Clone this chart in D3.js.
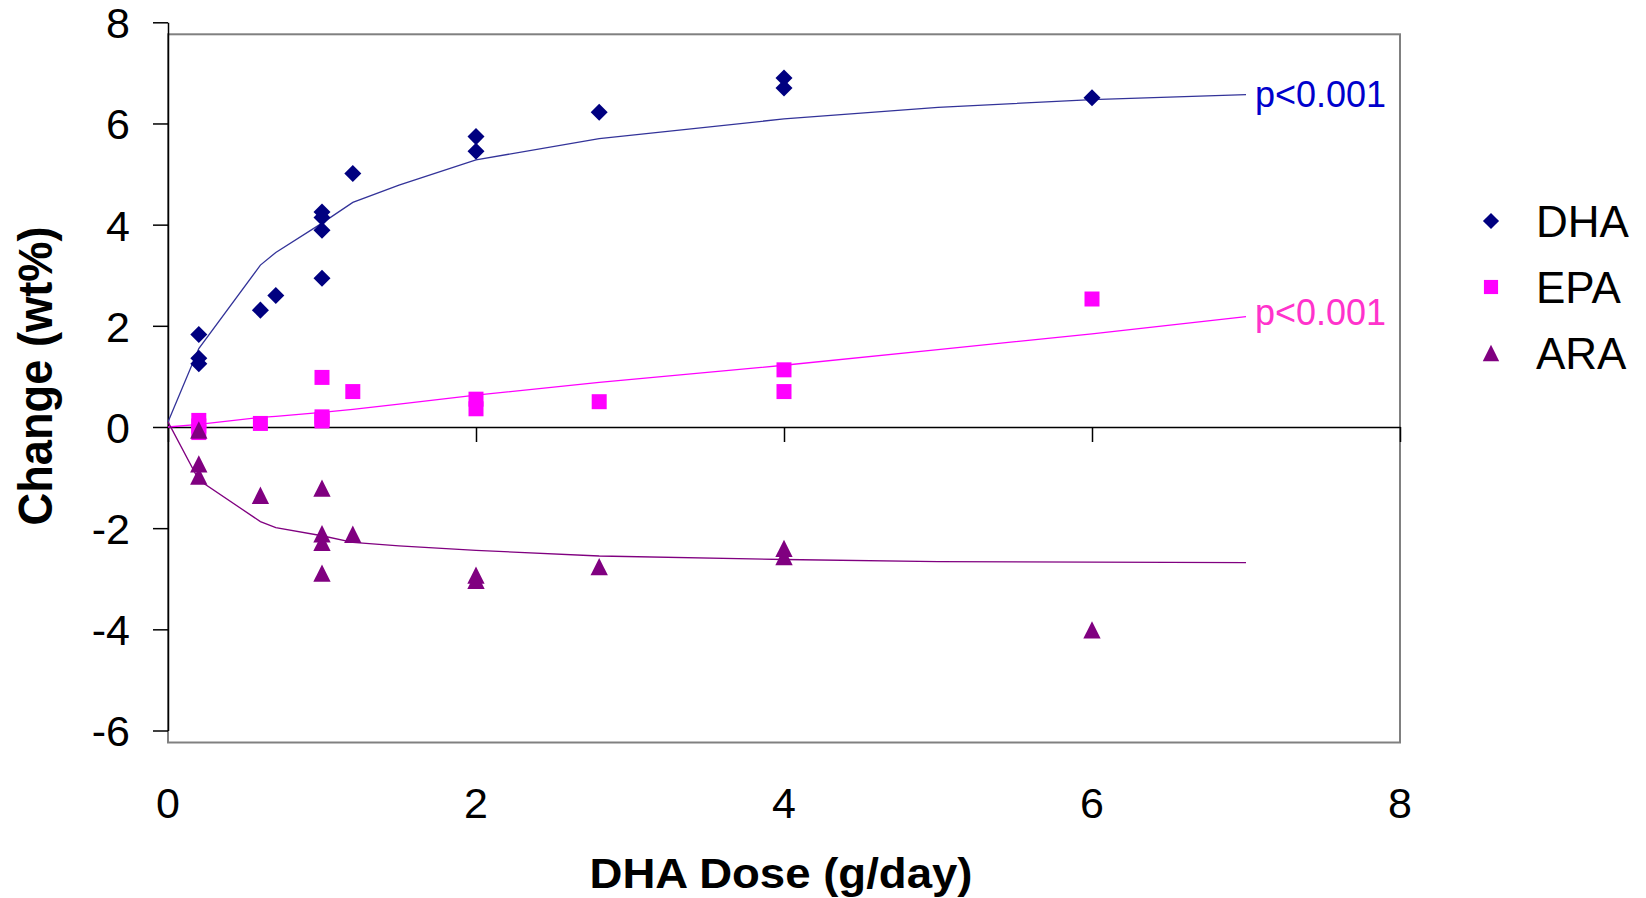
<!DOCTYPE html>
<html>
<head>
<meta charset="utf-8">
<script src="https://cdn.jsdelivr.net/npm/d3@7"></script>
<style>
	body { margin: 0; background: #ffffff; }
	text { font-family: "Liberation Sans", Arial, sans-serif; }
</style>
</head>
<body>
<div id="viz"></div>
<script>
var width = 1646;
var height = 898;

var dhaX = [0.2, 0.2, 0.2, 0.6, 0.7, 1, 1, 1, 1, 1.2, 2, 2, 2.8, 4, 4, 6];
var dhaY = [1.83, 1.36, 1.25, 2.31, 2.60, 4.25, 4.14, 3.89, 2.94, 5.01, 5.74, 5.45, 6.22, 6.90, 6.70, 6.51];

var epaX = [0.2, 0.2, 0.2, 0.6, 1, 1, 1, 1, 1.2, 2, 2, 2.8, 4, 4, 6];
var epaY = [0.13, 0.02, -0.11, 0.07, 0.98, 0.20, 0.15, 0.12, 0.70, 0.55, 0.36, 0.50, 1.13, 0.70, 2.53];

var araX = [0.2, 0.2, 0.2, 0.6, 1, 1, 1, 1, 1.2, 2, 2, 2.8, 4, 4, 6];
var araY = [-0.06, -0.73, -0.97, -1.35, -1.21, -2.11, -2.28, -2.89, -2.12, -2.93, -3.03, -2.76, -2.40, -2.56, -4.01];

// fitted curves
var fitX = [0, 0.2, 0.6, 0.7, 1, 1.2, 1.5, 2, 2.8, 4, 5, 6, 7];
var dhaFit = [0.1, 1.55, 3.2, 3.45, 4.03, 4.44, 4.78, 5.28, 5.70, 6.09, 6.32, 6.47, 6.57];
var epaFit = [0, 0.05, 0.19, 0.21, 0.29, 0.35, 0.45, 0.63, 0.88, 1.22, 1.53, 1.84, 2.18];
var araFit = [0.1, -1.05, -1.87, -1.99, -2.15, -2.28, -2.35, -2.44, -2.55, -2.62, -2.66, -2.67, -2.68];

var seriesNames = ["DHA", "EPA", "ARA"];
var pLabels = ["p<0.001", "p<0.001", ""];
var xTicks = [0, 2, 4, 6, 8];
var yTicks = [-6, -4, -2, 0, 2, 4, 6, 8];

var markerColor = { DHA: "#000080", EPA: "#ff00ff", ARA: "#800080" };
var lineColor = { DHA: "#333399", EPA: "#ff00ff", ARA: "#800080" };
var pColor = { DHA: "#0000cc", EPA: "#ff33cc" };
var pOffset = [12, 8, 0];

var x = d3.scaleLinear()
	.domain([0, 8])
	.range([168, 1400]);

var y = d3.scaleLinear()
	.domain([-6, 8])
	.range([730.5, 22.3]);

var zip = function(xs, ys) {
	return xs.map(function(d, i) { return [d, ys[i]]; });
}

var series = [
	{ name: "DHA", points: zip(dhaX, dhaY), fit: zip(fitX, dhaFit) },
	{ name: "EPA", points: zip(epaX, epaY), fit: zip(fitX, epaFit) },
	{ name: "ARA", points: zip(araX, araY), fit: zip(fitX, araFit) }
];

// excel style triangle, as wide as it is tall
var symbolTri = {
	draw: function(context, size) {
		var h = Math.sqrt(size);
		context.moveTo(0, -h / 2);
		context.lineTo(h / 2, h / 2);
		context.lineTo(-h / 2, h / 2);
		context.closePath();
	}
};

var markerPath = function(name) {
	if(name == "DHA") return d3.symbol().type(d3.symbolSquare).size(145)();
	if(name == "EPA") return d3.symbol().type(d3.symbolSquare).size(225)();
	return d3.symbol().type(symbolTri).size(300)();
}

var markerRotate = function(name) {
	return name == "DHA" ? " rotate(45)" : "";
}

// plain hyphen for negatives, like the original
var tickFmt = function(d) { return String(d); };

var svg = d3.select("#viz").append("svg")
	.attr("width", width)
	.attr("height", height);

svg.append("rect")
	.attr("width", width)
	.attr("height", height)
	.style("fill", "#ffffff");

// plot area frame (sits a little lower than the axis in the original)
var frameShift = 12;
svg.append("rect")
	.attr("x", x(0))
	.attr("y", y(8) + frameShift)
	.attr("width", x(8) - x(0))
	.attr("height", y(-6) - y(8))
	.style("fill", "none")
	.style("stroke", "#808080")
	.style("stroke-width", 2);

// y axis
var yAxis = svg.append("g")
	.attr("transform", "translate(" + x(0) + ",0)")
	.call(d3.axisLeft(y).tickValues(yTicks).tickSize(15).tickSizeOuter(0).tickPadding(23).tickFormat(tickFmt));

yAxis.select(".domain").style("stroke", "#000").style("stroke-width", 1.5);
yAxis.selectAll(".tick line").style("stroke", "#000").style("stroke-width", 1.5);
yAxis.selectAll(".tick text")
	.style("font-family", "Liberation Sans, Arial, sans-serif")
	.style("font-size", "43px")
	.style("fill", "#000")
	.attr("dy", "0.36em");

// x axis along zero
var xAxis = svg.append("g")
	.attr("transform", "translate(0," + y(0) + ")")
	.call(d3.axisBottom(x).tickValues(xTicks).tickSize(15).tickSizeOuter(0).tickFormat(""));

xAxis.select(".domain").style("stroke", "#000").style("stroke-width", 1.5);
xAxis.selectAll(".tick line").style("stroke", "#000").style("stroke-width", 1.5);

svg.selectAll(".xlabel")
	.data(xTicks)
	.enter().append("text")
	.attr("class", "xlabel")
	.attr("x", function(d) { return x(d); })
	.attr("y", 818)
	.attr("text-anchor", "middle")
	.style("font-size", "43px")
	.style("fill", "#000")
	.text(tickFmt);

// titles
svg.append("text")
	.attr("x", 781)
	.attr("y", 888)
	.attr("text-anchor", "middle")
	.attr("textLength", 383)
	.attr("lengthAdjust", "spacingAndGlyphs")
	.style("font-size", "42px")
	.style("font-weight", "bold")
	.style("fill", "#000")
	.text("DHA Dose (g/day)");

svg.append("text")
	.attr("transform", "translate(52,376) rotate(-90)")
	.attr("text-anchor", "middle")
	.attr("textLength", 299)
	.attr("lengthAdjust", "spacingAndGlyphs")
	.style("font-size", "49px")
	.style("font-weight", "bold")
	.style("fill", "#000")
	.text("Change (wt%)");

// fit lines
var line = d3.line()
	.x(function(d) { return x(d[0]); })
	.y(function(d) { return y(d[1]); });

svg.selectAll(".fit")
	.data(series)
	.enter().append("path")
	.attr("class", "fit")
	.attr("d", function(d) { return line(d.fit); })
	.style("fill", "none")
	.style("stroke", function(d) { return lineColor[d.name]; })
	.style("stroke-width", 1.3);

// markers
series.forEach(function(s) {
	svg.selectAll(".pt" + s.name)
		.data(s.points)
		.enter().append("path")
		.attr("class", "pt" + s.name)
		.attr("d", markerPath(s.name))
		.attr("transform", function(d) { return "translate(" + x(d[0]) + "," + y(d[1]) + ")" + markerRotate(s.name); })
		.style("fill", markerColor[s.name]);
});

// p value notes at the end of the fits
series.forEach(function(s, i) {
	if(!pLabels[i]) return;
	var last = s.fit[s.fit.length - 1];
	svg.append("text")
		.attr("x", x(last[0]) + 9)
		.attr("y", y(last[1]) + pOffset[i])
		.style("font-size", "36px")
		.style("fill", pColor[s.name])
		.text(pLabels[i]);
});

// legend
var legend = svg.selectAll(".legend")
	.data(seriesNames)
	.enter().append("g")
	.attr("class", "legend")
	.attr("transform", function(d, i) { return "translate(1491," + (221 + i * 66) + ")"; });

legend.append("path")
	.attr("d", function(d) {
		if(d == "DHA") return d3.symbol().type(d3.symbolSquare).size(130)();
		if(d == "EPA") return d3.symbol().type(d3.symbolSquare).size(200)();
		return d3.symbol().type(symbolTri).size(270)();
	})
	.attr("transform", function(d) { return d == "DHA" ? "rotate(45)" : ""; })
	.style("fill", function(d) { return markerColor[d]; });

legend.append("text")
	.attr("x", 45)
	.attr("y", 16)
	.style("font-size", "44px")
	.style("fill", "#000")
	.text(function(d) { return d; });
</script>
</body>
</html>
